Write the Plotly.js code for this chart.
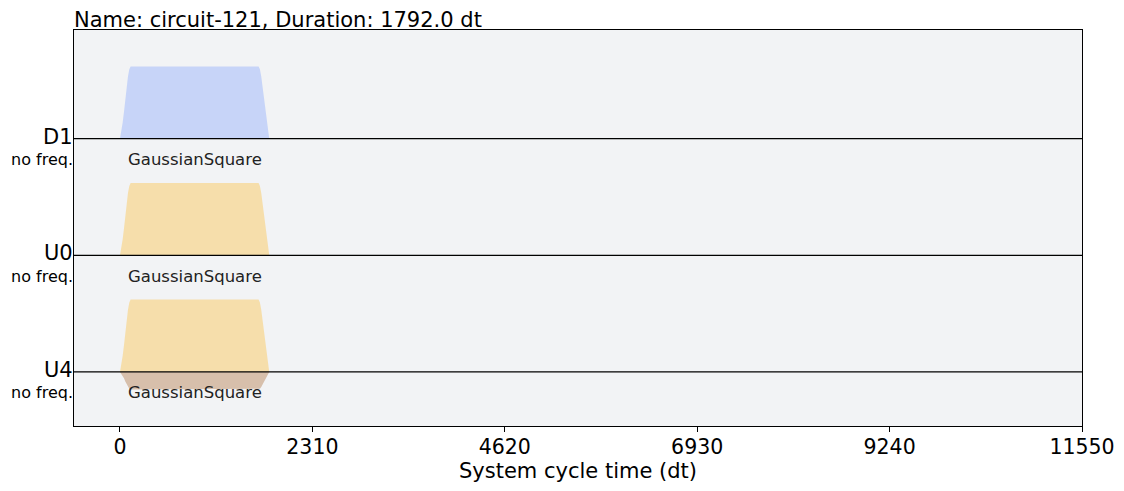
<!DOCTYPE html>
<html>
<head>
<meta charset="utf-8">
<script src="https://cdn.plot.ly/plotly-3.0.1.min.js"></script>
<style>html,body{margin:0;padding:0;background:#fff;}#chart{width:1124px;height:491px;}</style>
</head>
<body>
<div id="chart"></div>
<script>
// ---- data ----
const channels = ['D1', 'U0', 'U4'];
const channelOffsets = [0, -1, -2];
const channelFreqLabels = ['no freq.', 'no freq.', 'no freq.'];
const pulseNames = ['GaussianSquare', 'GaussianSquare', 'GaussianSquare'];
const pulseStart = [0, 0, 0];
const pulseDuration = [1792, 1792, 1792];
const ampReal = [0.62, 0.62, 0.62];
const ampImag = [0, 0, -0.15];
// rise edge samples (time from pulse start, normalised envelope)
const edgeTimes = [0, 16, 32, 48, 64, 80, 96, 112, 128];
const edgeShape = [0, 0.10, 0.22, 0.37, 0.55, 0.71, 0.86, 0.96, 1.0];
const xTicks = [0, 2310, 4620, 6930, 9240, 11550];
const realColors = ['rgba(100,143,255,0.3)', 'rgba(255,176,0,0.3)', 'rgba(255,176,0,0.3)'];
const imagColors = ['rgba(0,41,153,0.3)', 'rgba(153,74,0,0.3)', 'rgba(153,74,0,0.3)'];

// ---- build envelope ----
function envelope(start, dur) {
  const t = [], s = [];
  for (let i = 0; i < edgeTimes.length; i++) { t.push(start + edgeTimes[i]); s.push(edgeShape[i]); }
  for (let i = edgeTimes.length - 1; i >= 0; i--) { t.push(start + dur - edgeTimes[i]); s.push(edgeShape[i]); }
  return {t, s};
}

const traces = [];
const annotations = [];
const shapes = [];
const FONT = 'DejaVu Sans, Liberation Sans, sans-serif';

channels.forEach((ch, k) => {
  const off = channelOffsets[k];
  const env = envelope(pulseStart[k], pulseDuration[k]);
  if (ampReal[k] !== 0) {
    traces.push({
      type: 'scatter', mode: 'lines', x: env.t, y: env.s.map(v => off + v * ampReal[k]),
      fill: 'toself', fillcolor: realColors[k], line: {width: 0}, hoverinfo: 'skip'
    });
  }
  if (ampImag[k] !== 0) {
    traces.push({
      type: 'scatter', mode: 'lines', x: env.t, y: env.s.map(v => off + v * ampImag[k]),
      fill: 'toself', fillcolor: imagColors[k], line: {width: 0}, hoverinfo: 'skip'
    });
  }
  shapes.push({type: 'line', xref: 'paper', x0: 0, x1: 1, yref: 'y', y0: off, y1: off,
    line: {color: '#000', width: 1.2}, layer: 'above'});
  annotations.push({xref: 'paper', x: 0, xanchor: 'right', yref: 'y', y: off, yanchor: 'middle',
    yshift: 2, xshift: 1, text: ch, showarrow: false, font: {family: FONT, size: 21, color: '#000'}});
  annotations.push({xref: 'paper', x: 0, xanchor: 'right', yref: 'y', y: off, yanchor: 'middle',
    yshift: -21, xshift: 1, text: channelFreqLabels[k], showarrow: false, font: {family: FONT, size: 16, color: '#000'}});
  annotations.push({xref: 'x', x: pulseStart[k] + pulseDuration[k] / 2, xanchor: 'center', yref: 'y', y: off,
    yanchor: 'middle', yshift: -21, text: pulseNames[k], showarrow: false, font: {family: FONT, size: 16.5, color: '#222'}});
});

const layout = {
  width: 1124, height: 491,
  margin: {l: 74, r: 42, t: 30, b: 65},
  paper_bgcolor: '#ffffff', plot_bgcolor: '#f2f3f5',
  showlegend: false, hovermode: false,
  font: {family: FONT, color: '#000'},
  title: {text: 'Name: circuit-121, Duration: 1792.0 dt', xref: 'paper', x: 0, xanchor: 'left',
    yref: 'paper', y: 1, yanchor: 'bottom', pad: {b: 3}, font: {family: FONT, size: 21, color: '#000'}},
  xaxis: {range: [-552, 11550], tickmode: 'array', tickvals: xTicks, ticktext: xTicks.map(String),
    ticks: 'outside', ticklen: 5, tickcolor: '#000', ticklabelstandoff: -3,
    tickfont: {family: FONT, size: 20.5, color: '#000'},
    showgrid: false, zeroline: false, showline: true, linecolor: '#000', linewidth: 1, mirror: true,
    title: {text: 'System cycle time (dt)', font: {family: FONT, size: 21, color: '#000'}, standoff: 0}},
  yaxis: {range: [-2.464, 0.932], showticklabels: false, ticks: '', showgrid: false, zeroline: false,
    showline: true, linecolor: '#000', linewidth: 1, mirror: true},
  shapes: shapes, annotations: annotations
};

Plotly.newPlot('chart', traces, layout, {displayModeBar: false, staticPlot: true});
</script>
</body>
</html>
